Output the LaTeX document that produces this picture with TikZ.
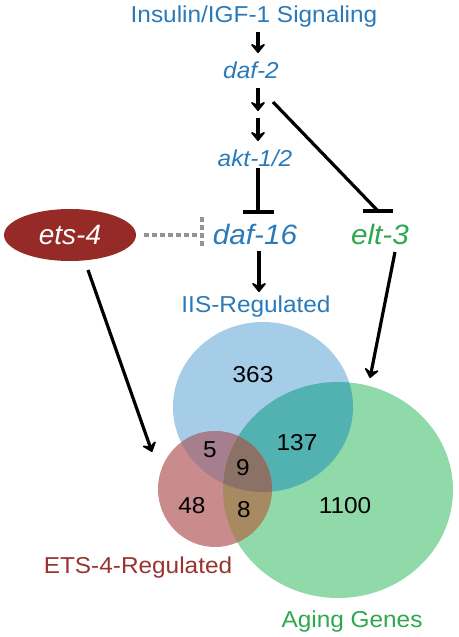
\documentclass[tikz,border=0pt]{standalone}
\usepackage{fontspec}
\setmainfont{Liberation Sans}
\usetikzlibrary{arrows.meta, positioning, shapes.geometric}

\definecolor{iisblue}{HTML}{2A7AB9}
\definecolor{agegreen}{HTML}{2EA84E}
\definecolor{etsred}{HTML}{993330}
\definecolor{etsfill}{HTML}{952A26}
\definecolor{iisfill}{HTML}{A5CDE8}
\definecolor{agefill}{HTML}{90D9A9}
\definecolor{etsset}{HTML}{C98B8B}
\definecolor{iisage}{HTML}{52B1B1}
\definecolor{iisets}{HTML}{A57F8D}
\definecolor{etsage}{HTML}{A88A62}
\definecolor{allthree}{HTML}{8C7167}

\newcommand{\iisshape}{(263,407) ellipse [x radius=90pt, y radius=85pt]}
\newcommand{\ageshape}{(338,490) ellipse [x radius=115pt, y radius=108pt]}
\newcommand{\etsshape}{(215,489) ellipse [x radius=57pt, y radius=58pt]}

\tikzset{
  gene/.style={font=\fontsize{23}{27}\selectfont\itshape, text=iisblue, anchor=base, inner sep=0pt, xscale=1.06},
  biggene/.style={gene, font=\fontsize{28}{32}\selectfont\itshape},
  setlabel/.style={font=\fontsize{23}{27}\selectfont, anchor=base, inner sep=0pt, xscale=1.06},
  count/.style={font=\fontsize{23}{27}\selectfont, inner sep=0pt, xscale=1.06},
  act/.style={line width=3.2pt, -{Stealth[length=11pt, width=18pt, inset=4.5pt, round]}},
  inhib/.style={line width=3.2pt},
}

\begin{document}
\begin{tikzpicture}[x=1pt, y=-1pt]
    \useasboundingbox (0,0) rectangle (458,637);

    % Venn diagram
    \fill[iisfill] \iisshape;
    \fill[agefill] \ageshape;
    \fill[etsset] \etsshape;
    \begin{scope}
      \clip \iisshape;
      \fill[iisage] \ageshape;
    \end{scope}
    \begin{scope}
      \clip \iisshape;
      \fill[iisets] \etsshape;
    \end{scope}
    \begin{scope}
      \clip \ageshape;
      \fill[etsage] \etsshape;
    \end{scope}
    \begin{scope}
      \clip \iisshape;
      \clip \ageshape;
      \fill[allthree] \etsshape;
    \end{scope}

    \node[count] (n363) at (253,375) {363};
    \node[count] (n137) at (297,443) {137};
    \node[count] (n5) at (210,450) {5};
    \node[count] (n9) at (243,468) {9};
    \node[count] (n48) at (192,506) {48};
    \node[count] (n8) at (244,510) {8};
    \node[count] (n1100) at (345,506) {1100};

    \node[setlabel, text=iisblue] (iislab) at (256,312) {IIS-Regulated};
    \node[setlabel, text=etsred] (etslab) at (138,573) {ETS-4-Regulated};
    \node[setlabel, text=agegreen] (agelab) at (352,627) {Aging Genes};

    % pathway
    \node[gene, font=\fontsize{23}{27}\selectfont] (insulin) at (254,22) {Insulin/IGF-1 Signaling};
    \node[gene] (daf2) at (251,78) {daf-2};
    \node[gene] (akt) at (255,166) {akt-1/2};
    \node[biggene] (daf16) at (255,244) {daf-16};
    \node[biggene, text=agegreen] (elt3) at (380,244) {elt-3};
    \node[fill=etsfill, ellipse, minimum width=132pt, minimum height=52pt, inner sep=0pt,
          text=white, font=\fontsize{28}{32}\selectfont\itshape] (ets4) at (70,235) {ets-4};

    \coordinate (sigtop) at (258,32);
    \coordinate (sigbot) at (258,53);
    \coordinate (daftop) at (258,88);
    \coordinate (dafmid) at (258,111);
    \coordinate (aktup) at (258,118);
    \coordinate (aktdown) at (258,141);
    \coordinate (aktbar) at (258,212);
    \coordinate (eltfrom) at (273,102);
    \coordinate (eltbar) at (378,211);
    \coordinate (dashend) at (202,235);

    \draw[act] (sigtop) -- (sigbot);
    \draw[act] (daftop) -- (dafmid);
    \draw[act] (aktup) -- (aktdown);
    \draw[inhib] (258,168) -- (aktbar);
    \draw[inhib] ([xshift=-15pt]aktbar) -- ([xshift=16pt]aktbar);
    \draw[inhib] (eltfrom) -- (eltbar);
    \draw[inhib] ([xshift=-15pt]eltbar) -- ([xshift=15pt]eltbar);
    \draw[inhib, gray!85, dash pattern=on 5pt off 3pt] ([xshift=8pt]ets4.east) -- (dashend);
    \draw[inhib, gray!85, dash pattern=on 5pt off 3pt] ([yshift=-11pt]dashend) -- ([yshift=18pt]dashend);

    \draw[act] (259,251) -- (259,292);
    \draw[act] (395,252) -- (370,378);
    \draw[act] (88,270) -- (152,452);
\end{tikzpicture}
\end{document}
